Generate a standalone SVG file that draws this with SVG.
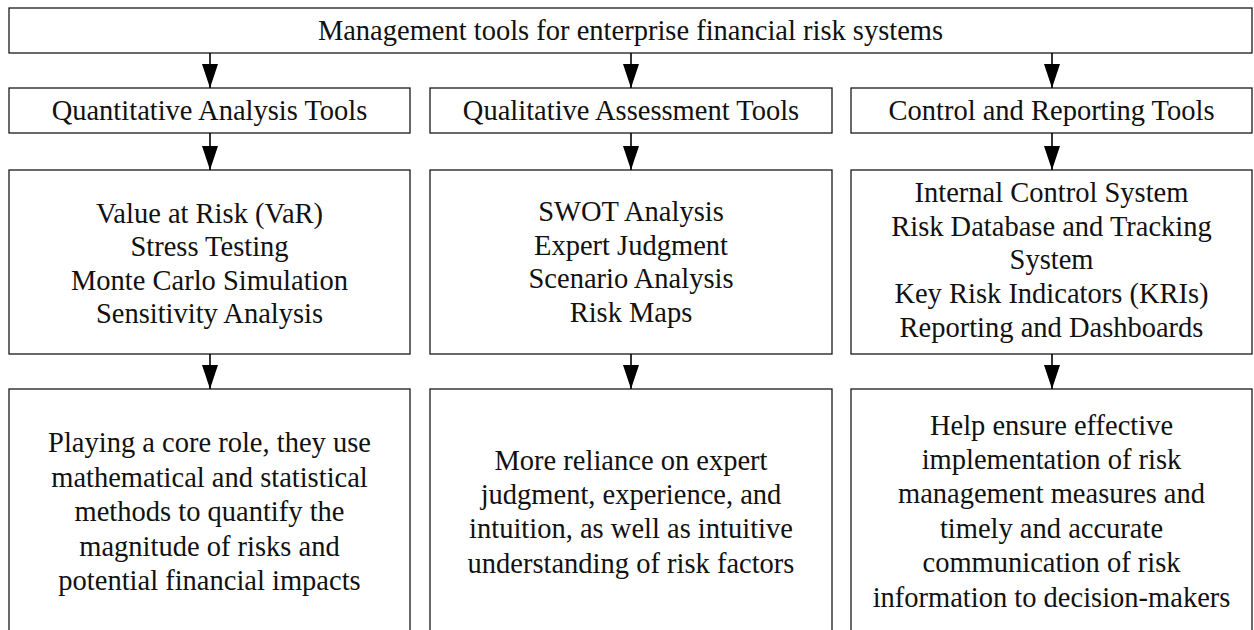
<svg xmlns="http://www.w3.org/2000/svg" width="1254" height="630" viewBox="0 0 1254 630">
  <style>
    .box { fill: #ffffff; stroke: #1a1a1a; stroke-width: 1.3; }
    .lbl { font-family: "Liberation Serif", "Times New Roman", serif; font-size: 28.5px; fill: #111111; text-anchor: middle; }
    .edge { stroke: #000000; stroke-width: 1.6; fill: none; marker-end: url(#arrow); }
  </style>
  <defs>
    <marker id="arrow" markerUnits="userSpaceOnUse" markerWidth="24" markerHeight="16" refX="24" refY="8" orient="auto">
      <path d="M0,0 L24,8 L0,16 Z" fill="#000000"/>
    </marker>
  </defs>
  <rect width="1254" height="630" fill="#ffffff"/>

  <!-- root -->
  <g id="root">
    <rect class="box" x="9" y="8" width="1243" height="45"/>
    <text class="lbl" x="630.5" y="40">Management tools for enterprise financial risk systems</text>
  </g>

  <!-- category headers -->
  <g id="quantitative">
    <rect class="box" x="9" y="88" width="401" height="45"/>
    <text class="lbl" x="209.5" y="120">Quantitative Analysis Tools</text>
  </g>
  <g id="qualitative">
    <rect class="box" x="430" y="88" width="402" height="45"/>
    <text class="lbl" x="631" y="120">Qualitative Assessment Tools</text>
  </g>
  <g id="control">
    <rect class="box" x="851" y="88" width="401" height="45"/>
    <text class="lbl" x="1051.5" y="120">Control and Reporting Tools</text>
  </g>

  <!-- tool lists -->
  <g id="quantitative-tools">
    <rect class="box" x="9" y="170" width="401" height="184"/>
    <text class="lbl" x="209.5" y="223">Value at Risk (VaR)</text>
    <text class="lbl" x="209.5" y="256.3">Stress Testing</text>
    <text class="lbl" x="209.5" y="289.6">Monte Carlo Simulation</text>
    <text class="lbl" x="209.5" y="323">Sensitivity Analysis</text>
  </g>
  <g id="qualitative-tools">
    <rect class="box" x="430" y="170" width="402" height="184"/>
    <text class="lbl" x="631" y="221">SWOT Analysis</text>
    <text class="lbl" x="631" y="254.6">Expert Judgment</text>
    <text class="lbl" x="631" y="288.3">Scenario Analysis</text>
    <text class="lbl" x="631" y="322">Risk Maps</text>
  </g>
  <g id="control-tools">
    <rect class="box" x="851" y="170" width="401" height="184"/>
    <text class="lbl" x="1051.5" y="202">Internal Control System</text>
    <text class="lbl" x="1051.5" y="235.6">Risk Database and Tracking</text>
    <text class="lbl" x="1051.5" y="269.3">System</text>
    <text class="lbl" x="1051.5" y="303">Key Risk Indicators (KRIs)</text>
    <text class="lbl" x="1051.5" y="336.6">Reporting and Dashboards</text>
  </g>

  <!-- descriptions -->
  <g id="quantitative-role">
    <rect class="box" x="9" y="389" width="401" height="260"/>
    <text class="lbl" x="209.5" y="452">Playing a core role, they use</text>
    <text class="lbl" x="209.5" y="486.5">mathematical and statistical</text>
    <text class="lbl" x="209.5" y="521">methods to quantify the</text>
    <text class="lbl" x="209.5" y="555.5">magnitude of risks and</text>
    <text class="lbl" x="209.5" y="590">potential financial impacts</text>
  </g>
  <g id="qualitative-role">
    <rect class="box" x="430" y="389" width="402" height="260"/>
    <text class="lbl" x="631" y="469.5">More reliance on expert</text>
    <text class="lbl" x="631" y="503.8">judgment, experience, and</text>
    <text class="lbl" x="631" y="538.2">intuition, as well as intuitive</text>
    <text class="lbl" x="631" y="572.6">understanding of risk factors</text>
  </g>
  <g id="control-role">
    <rect class="box" x="851" y="389" width="401" height="260"/>
    <text class="lbl" x="1051.5" y="434.5">Help ensure effective</text>
    <text class="lbl" x="1051.5" y="469">implementation of risk</text>
    <text class="lbl" x="1051.5" y="503.4">management measures and</text>
    <text class="lbl" x="1051.5" y="537.8">timely and accurate</text>
    <text class="lbl" x="1051.5" y="572.2">communication of risk</text>
    <text class="lbl" x="1051.5" y="606.6">information to decision-makers</text>
  </g>

  <!-- connectors -->
  <g id="connectors">
    <line class="edge" x1="210" y1="53" x2="210" y2="88"/>
    <line class="edge" x1="631" y1="53" x2="631" y2="88"/>
    <line class="edge" x1="1052" y1="53" x2="1052" y2="88"/>
    <line class="edge" x1="210" y1="133" x2="210" y2="170"/>
    <line class="edge" x1="631" y1="133" x2="631" y2="170"/>
    <line class="edge" x1="1052" y1="133" x2="1052" y2="170"/>
    <line class="edge" x1="210" y1="354" x2="210" y2="389"/>
    <line class="edge" x1="631" y1="354" x2="631" y2="389"/>
    <line class="edge" x1="1052" y1="354" x2="1052" y2="389"/>
  </g>
</svg>
